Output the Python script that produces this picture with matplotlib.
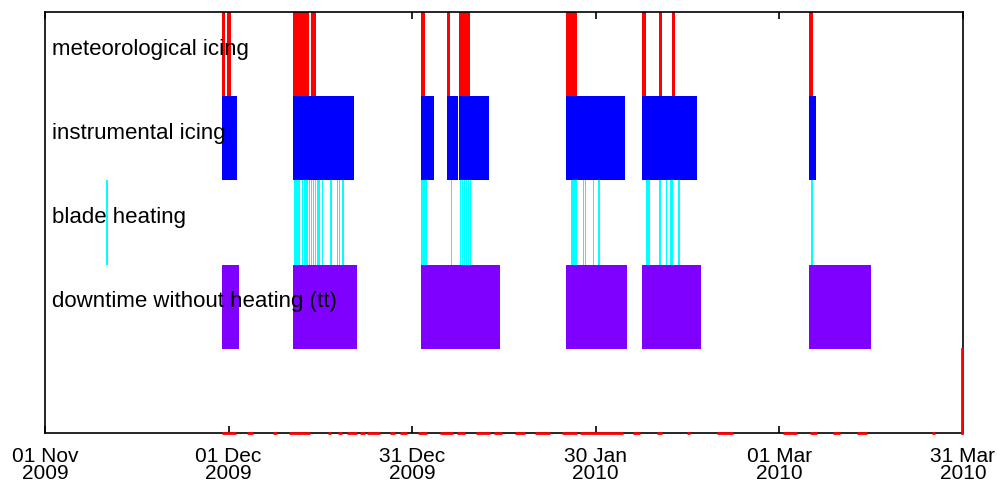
import datetime as dt
import matplotlib
matplotlib.use('Agg')
import matplotlib.pyplot as plt
import matplotlib.dates as mdates

plt.rcParams['font.family'] = ['Liberation Sans', 'DejaVu Sans']

start = dt.datetime(2009, 11, 1)

# intervals in days after 01 Nov 2009 (start, end)
met_icing = [(28.9, 29.4), (29.7, 30.4), (40.6, 43.2), (43.5, 44.2), (61.4, 62.1),
             (65.7, 66.2), (67.6, 69.5), (85.2, 86.9), (97.6, 98.2), (100.3, 100.9),
             (102.4, 102.9), (124.9, 125.5)]
instr_icing = [(28.9, 31.4), (40.6, 50.5), (61.4, 63.6), (65.7, 67.5), (67.6, 72.5),
               (85.2, 94.8), (97.6, 106.6), (124.9, 126.0)]
blade_heating = [(10.0, 10.25), (40.7, 41.7), (42.0, 42.2), (42.3, 42.5), (42.55, 42.75),
                 (42.8, 43.0), (43.1, 43.3), (43.4, 43.6), (43.8, 44.0), (44.15, 44.35),
                 (44.5, 44.7), (44.8, 45.0), (45.2, 45.45), (46.6, 46.85), (47.65, 47.9),
                 (48.0, 48.25), (48.6, 48.85), (61.4, 62.5), (66.3, 66.55), (67.8, 68.0),
                 (68.1, 68.3), (68.45, 68.65), (68.75, 68.95), (69.1, 69.3), (69.4, 69.6),
                 (85.9, 87.0), (87.85, 88.1), (88.2, 88.45), (89.5, 89.75), (90.4, 90.7),
                 (98.25, 98.5), (98.55, 98.8), (100.4, 100.65), (101.4, 101.7),
                 (102.2, 102.6), (103.4, 103.8), (125.1, 125.5)]
downtime = [(28.9, 31.7), (40.6, 51.0), (61.4, 74.3), (85.2, 95.1), (97.6, 107.2),
            (124.9, 134.9)]
bottom_red = [(28.9, 31.2), (33.0, 34.0), (37.2, 37.9), (39.9, 43.3), (46.2, 46.7),
              (47.9, 48.5), (49.3, 50.9), (51.5, 52.3), (52.6, 54.7), (56.4, 57.2),
              (58.0, 59.1), (61.0, 62.4), (64.5, 66.7), (67.3, 68.6), (70.5, 72.7),
              (73.3, 74.6), (76.8, 78.4), (80.1, 82.5), (84.4, 86.9), (87.4, 94.4),
              (96.1, 97.2), (100.0, 100.8), (104.9, 105.4), (109.8, 112.4),
              (120.6, 122.9), (125.0, 126.1), (128.8, 129.9), (132.7, 134.3),
              (144.9, 145.4)]

row_labels = ['meteorological icing', 'instrumental icing', 'blade heating',
              'downtime without heating (tt)']
row_series = [met_icing, instr_icing, blade_heating, downtime]
row_colors = ['#ff0000', '#0000ff', '#00ffff', '#8000ff']
row_base = [4, 3, 2, 1]

tick_days = [0, 30, 60, 90, 120, 150]
tick_labels = ['01 Nov\n2009', '01 Dec\n2009', '31 Dec\n2009', '30 Jan\n2010',
               '01 Mar\n2010', '31 Mar\n2010']


def to_num(d):
    return mdates.date2num(start + dt.timedelta(days=d))


fig = plt.figure(figsize=(9.98, 4.81), dpi=100)
ax = fig.add_axes([0.0451, 0.0977, 0.9198, 0.8753])

for series, color, base in zip(row_series, row_colors, row_base):
    spans = [(to_num(a), to_num(b) - to_num(a)) for a, b in series]
    ax.broken_barh(spans, (base, 1), facecolors=color, edgecolor='none', zorder=2)

for label, base in zip(row_labels, row_base):
    ax.text(to_num(1.15), base + 0.57, label, fontsize=16, va='center', ha='left', zorder=5)

# bottom row: red status line
for a, b in bottom_red:
    ax.plot([to_num(a), to_num(b)], [0, 0], color='#ff0000', lw=2,
            solid_capstyle='butt', clip_on=False, zorder=4)
ax.plot([to_num(149.8), to_num(149.8)], [0, 1], color='#ff0000', lw=2,
        clip_on=False, zorder=4)

ax.set_xlim(to_num(0), to_num(150))
ax.set_ylim(0, 5)
ax.set_yticks([])
ax.set_xticks([to_num(d) for d in tick_days])
ax.set_xticklabels(tick_labels, fontsize=15, linespacing=0.84)
ax.tick_params(axis='x', direction='in', top=True, length=5, width=1.2, pad=9.5)
for s in ax.spines.values():
    s.set_linewidth(1.2)

fig.savefig('out.png', dpi=100)
